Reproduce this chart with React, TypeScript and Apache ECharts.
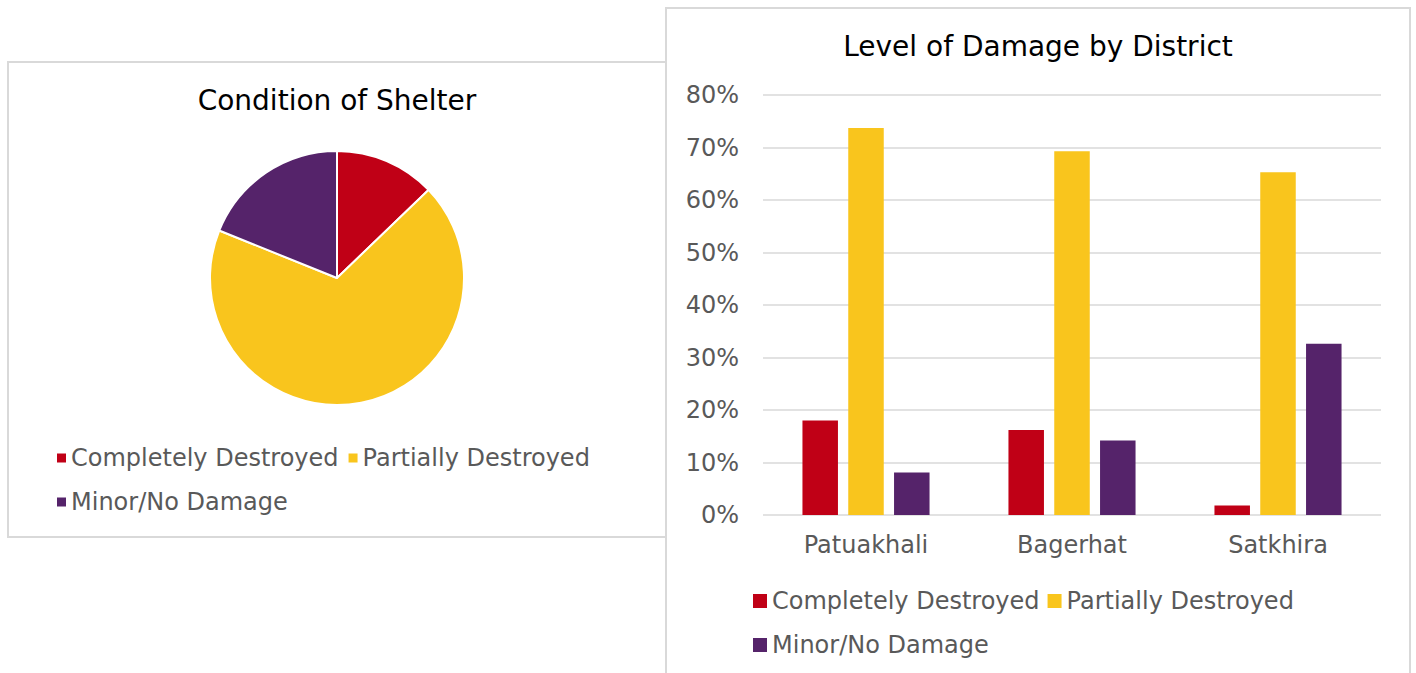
import React, { useEffect, useRef } from "react";
import * as echarts from "echarts";

const seriesNames = ["Completely Destroyed", "Partially Destroyed", "Minor/No Damage"];
const seriesColors = ["#C00016", "#F9C51D", "#55236A"];

// Pie: Condition of Shelter (percent)
const pieValues = [12.8, 68.3, 18.9];

// Bar: Level of Damage by District (percent)
const districts = ["Patuakhali", "Bagerhat", "Satkhira"];
const completelyDestroyed = [18.0, 16.2, 1.8];
const partiallyDestroyed = [73.7, 69.3, 65.3];
const minorNoDamage = [8.1, 14.2, 32.6];

const pieTitle = "Condition of Shelter";
const barTitle = "Level of Damage by District";

const FONT = "DejaVu Sans";
const GRAY_TEXT = "#595959";
const GRID_GRAY = "#D9D9D9";

export default function App() {
  const ref = useRef<HTMLDivElement>(null);

  useEffect(() => {
    if (!ref.current) return;
    const chart = echarts.init(ref.current, undefined, { renderer: "svg" });

    const legendCommon = {
      orient: "horizontal" as const,
      padding: 0,
      itemGap: 10,
      icon: "rect",
      textStyle: { color: GRAY_TEXT, fontSize: 24, fontFamily: FONT },
      selectedMode: false,
    };

    const option: any = {
      animation: false,
      backgroundColor: "#FFFFFF",
      textStyle: { fontFamily: FONT },
      graphic: [
        {
          type: "polyline",
          z: -10,
          shape: {
            points: [
              [666, 62],
              [8, 62],
              [8, 537],
              [666, 537],
            ],
          },
          style: { stroke: GRID_GRAY, lineWidth: 2, fill: null },
        },
        {
          type: "rect",
          z: -9,
          shape: { x: 666, y: 8, width: 744, height: 700 },
          style: { stroke: GRID_GRAY, lineWidth: 2, fill: "#FFFFFF" },
        },
      ],
      title: [
        {
          text: pieTitle,
          left: 337,
          top: 86,
          padding: 0,
          textAlign: "center",
          textStyle: { fontSize: 28, fontWeight: "normal", color: "#000000", fontFamily: FONT },
        },
        {
          text: barTitle,
          left: 1038,
          top: 32,
          padding: 0,
          textAlign: "center",
          textStyle: { fontSize: 28, fontWeight: "normal", color: "#000000", fontFamily: FONT },
        },
      ],
      legend: [
        { ...legendCommon, left: 57, top: 446, itemWidth: 9, itemHeight: 9, data: [seriesNames[0], seriesNames[1]] },
        { ...legendCommon, left: 57, top: 490, itemWidth: 9, itemHeight: 9, data: [seriesNames[2]] },
        { ...legendCommon, left: 753, top: 589, itemWidth: 14, itemHeight: 14, itemGap: 8, data: [seriesNames[0], seriesNames[1]] },
        { ...legendCommon, left: 753, top: 633, itemWidth: 14, itemHeight: 14, itemGap: 8, data: [seriesNames[2]] },
      ],
      grid: {
        left: 763,
        top: 95,
        width: 618,
        height: 420,
        containLabel: false,
      },
      xAxis: {
        type: "category",
        data: districts,
        axisLine: { show: false },
        axisTick: { show: false },
        axisLabel: { color: GRAY_TEXT, fontSize: 24, fontFamily: FONT, margin: 18 },
      },
      yAxis: {
        type: "value",
        min: 0,
        max: 80,
        interval: 10,
        axisLine: { show: false },
        axisTick: { show: false },
        axisLabel: { color: GRAY_TEXT, fontSize: 24, fontFamily: FONT, margin: 24, formatter: "{value}%" },
        splitLine: { lineStyle: { color: GRID_GRAY, width: 1.5 } },
      },
      series: [
        {
          type: "pie",
          name: pieTitle,
          center: [337, 278],
          radius: 127,
          startAngle: 90,
          clockwise: true,
          label: { show: false },
          labelLine: { show: false },
          emphasis: { disabled: true },
          itemStyle: { borderColor: "#FFFFFF", borderWidth: 2 },
          data: seriesNames.map((n, i) => ({ name: n, value: pieValues[i], itemStyle: { color: seriesColors[i] } })),
        },
        {
          type: "bar",
          name: seriesNames[0],
          data: completelyDestroyed,
          barWidth: 35.5,
          barGap: "29%",
          itemStyle: { color: seriesColors[0] },
        },
        {
          type: "bar",
          name: seriesNames[1],
          data: partiallyDestroyed,
          barWidth: 35.5,
          barGap: "29%",
          itemStyle: { color: seriesColors[1] },
        },
        {
          type: "bar",
          name: seriesNames[2],
          data: minorNoDamage,
          barWidth: 35.5,
          barGap: "29%",
          itemStyle: { color: seriesColors[2] },
        },
      ],
    };

    chart.setOption(option);
    return () => {
      chart.dispose();
    };
  }, []);

  return (
    <div
      ref={ref}
      style={{ position: "absolute", left: 0, top: 0, width: 1416, height: 673, background: "#FFFFFF" }}
    />
  );
}
